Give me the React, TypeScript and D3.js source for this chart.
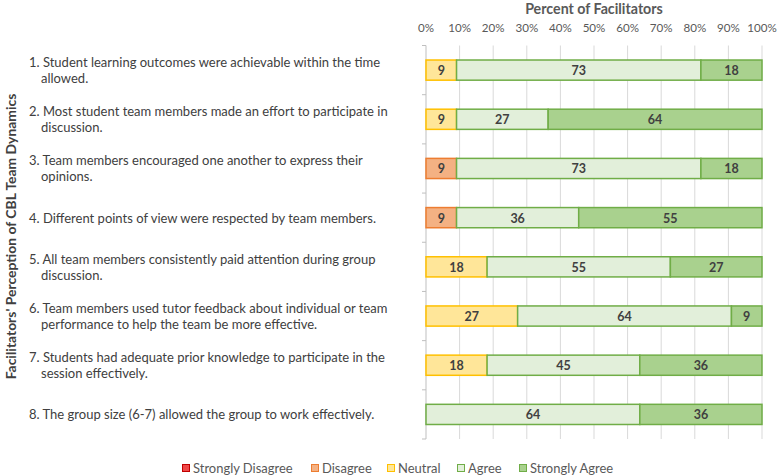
import React, { useMemo } from "react";
import * as d3 from "d3";

const categories: string[][] = [
  ["1. Student learning outcomes were achievable within the time", "allowed."],
  ["2. Most student team members made an effort to participate in", "discussion."],
  ["3. Team members encouraged one another to express their", "opinions."],
  ["4. Different points of view were respected by team members."],
  ["5. All team members consistently paid attention during group", "discussion."],
  ["6. Team members used tutor feedback about individual or team", "performance to help the team be more effective."],
  ["7. Students had adequate prior knowledge to participate in the", "session effectively."],
  ["8. The group size (6-7) allowed the group to work effectively."],
];

const seriesNames = ["Strongly Disagree", "Disagree", "Neutral", "Agree", "Strongly Agree"];
const stronglyDisagree = [0, 0, 0, 0, 0, 0, 0, 0];
const disagree = [0, 0, 9.09, 9.09, 0, 0, 0, 0];
const neutral = [9.09, 9.09, 0, 0, 18.18, 27.27, 18.18, 0];
const agree = [72.73, 27.27, 72.73, 36.36, 54.55, 63.64, 45.45, 63.64];
const stronglyAgree = [18.18, 63.64, 18.18, 54.55, 27.27, 9.09, 36.36, 36.36];
const xTicks = [0, 10, 20, 30, 40, 50, 60, 70, 80, 90, 100];

const xTitle = "Percent of Facilitators";
const yTitle = "Facilitators' Perception of CBL Team Dynamics";

const fills = ["#F04848", "#F4B183", "#FFE699", "#E2EFDA", "#A9D18E"];
const strokes = ["#C00000", "#ED7D31", "#FFC000", "#70AD47", "#70AD47"];

const FONT = "Lato, 'Open Sans', sans-serif";

function fitSize(text: string, target: number, weight: string, fallback: number): number {
  try {
    const ctx = document.createElement("canvas").getContext("2d");
    if (!ctx) return fallback;
    ctx.font = `${weight} 20px Lato`;
    const w = ctx.measureText(text).width;
    if (!w) return fallback;
    return (20 * target) / w;
  } catch (e) {
    return fallback;
  }
}

export default function App() {
  const W = 778, H = 476;
  const sizes = useMemo(() => ({
    xTitle: fitSize(xTitle, 138, "bold", 14.5),
    yTitle: fitSize(yTitle, 287, "bold", 14),
    cat: fitSize(categories[0][0], 352, "normal", 13),
    tick: fitSize("100%", 29.5, "normal", 12.5),
    legend: fitSize("Strongly Disagree", 100, "normal", 12.5),
    data: fitSize("73", 14.5, "bold", 12.5),
  }), []);

  const x = d3.scaleLinear().domain([0, 100]).range([426, 762]);
  const y = d3.scaleBand<number>().domain(d3.range(categories.length)).range([45.5, 439]).paddingInner(0.59).paddingOuter(0.295);
  const step = y.step();
  const series = [stronglyDisagree, disagree, neutral, agree, stronglyAgree];
  const stack = categories.map((_, i) => {
    let acc = 0;
    return series.map((s, k) => {
      const v = s[i];
      const seg = { k, x0: acc, x1: acc + v, v };
      acc += v;
      return seg;
    });
  });
  const legendX = [182, 311, 387, 457, 519];

  return (
    <svg width={W} height={H} style={{ position: "absolute", left: 0, top: 0 }} fontFamily={FONT}>
      <rect width={W} height={H} fill="#fff" />
      <text x={x(50)} y={8} dominantBaseline="central" textAnchor="middle" fontSize={sizes.xTitle} fontWeight="bold" fill="#595959">{xTitle}</text>
      {xTicks.map((t) => (
        <text key={t} x={x(t)} y={27.5} dominantBaseline="central" textAnchor="middle" fontSize={sizes.tick} fill="#595959">{t}%</text>
      ))}
      {xTicks.map((t) => (
        <line key={"g" + t} x1={x(t)} x2={x(t)} y1={45.5} y2={439} stroke={t === 0 ? "#BFBFBF" : "#D9D9D9"} strokeWidth={1} />
      ))}
      {d3.range(categories.length + 1).map((i) => (
        <line key={"t" + i} x1={x(0) - 4} x2={x(0)} y1={45.5 + i * step} y2={45.5 + i * step} stroke="#BFBFBF" />
      ))}
      {stack.map((segs, i) =>
        segs.filter((s) => s.v > 0).map((s) => (
          <g key={i + "-" + s.k}>
            <rect x={x(s.x0)} y={y(i)!} width={x(s.x1) - x(s.x0)} height={y.bandwidth()} fill={fills[s.k]} stroke={strokes[s.k]} strokeWidth={1.5} />
            <text x={(x(s.x0) + x(s.x1)) / 2} y={y(i)! + y.bandwidth() / 2 + 0.5} dominantBaseline="central" textAnchor="middle" fontSize={sizes.data} fontWeight="bold" fill="#404040">{Math.round(s.v)}</text>
          </g>
        ))
      )}
      {categories.map((lines, i) => {
        const cy = y(i)! + y.bandwidth() / 2;
        const lh = 16;
        const top = cy - ((lines.length - 1) * lh) / 2;
        return lines.map((ln, j) => (
          <text key={i + "l" + j} x={j === 0 ? 29 : 41} y={top + j * lh} dominantBaseline="central" fontSize={sizes.cat} fill="#404040">{ln}</text>
        ));
      })}
      <text transform={`translate(10,${(93 + 380) / 2}) rotate(-90)`} dominantBaseline="central" textAnchor="middle" fontSize={sizes.yTitle} fontWeight="bold" fill="#404040">{yTitle}</text>
      {seriesNames.map((n, k) => (
        <g key={n}>
          <rect x={legendX[k] + 0.5} y={464.5} width={7} height={7} fill={fills[k]} stroke={strokes[k]} strokeWidth={1} />
          <text x={legendX[k] + 11} y={468} dominantBaseline="central" fontSize={sizes.legend} fill="#595959">{n}</text>
        </g>
      ))}
    </svg>
  );
}
